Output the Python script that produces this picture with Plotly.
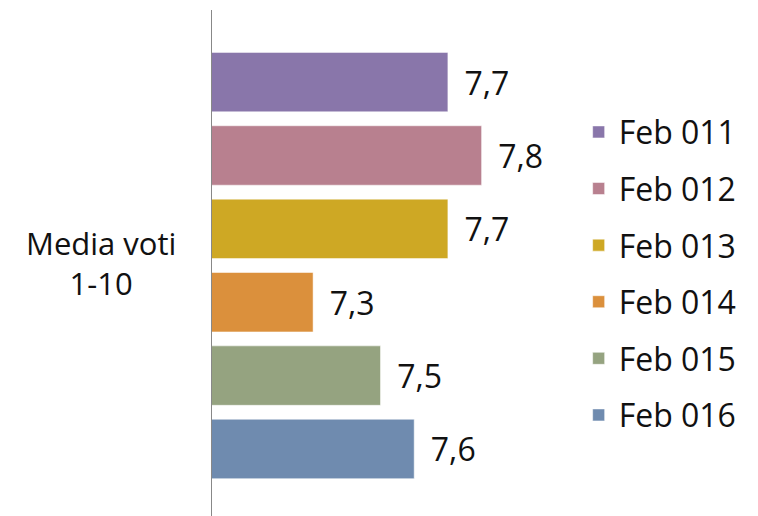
import plotly.graph_objects as go

category = ["Media voti 1-10"]
category_label = "Media voti<br>1-10"
series_names = ["Feb 011", "Feb 012", "Feb 013", "Feb 014", "Feb 015", "Feb 016"]
series_values = [7.7, 7.8, 7.7, 7.3, 7.5, 7.6]
colors = ["#8976AA", "#B8808F", "#CEA824", "#DB903C", "#95A380", "#6F8BAF"]

FONT = "Open Sans"

fig = go.Figure()
for name, val, col in zip(series_names, series_values, colors):
    fig.add_trace(go.Bar(
        y=category, x=[val], name=name, orientation="h",
        marker=dict(color=col, line=dict(color="rgba(255,255,255,0.5)", width=1)),
        texttemplate="\u00a0\u2009%{x:.1f}", textposition="outside",
        textfont=dict(family=FONT, size=32, color="#111"),
        cliponaxis=False, legendgroup=name,
    ))

fig.add_annotation(
    text=category_label, xref="paper", yref="y", x=-0.33, y=category[0],
    xanchor="center", yanchor="middle", align="center", showarrow=False,
    yshift=3, font=dict(family=FONT, size=31, color="#111"),
)

# page body has an 8px margin; margins are shifted to compensate
fig.update_layout(
    width=758, height=516,
    margin=dict(l=204, r=217, t=2, b=8, autoexpand=False),
    paper_bgcolor="white", plot_bgcolor="white",
    barmode="group", bargap=0.13, bargroupgap=0.19,
    separators=",.",
    showlegend=True,
    legend=dict(x=1.088, y=0.479, yanchor="middle", xanchor="left",
                font=dict(family=FONT, size=32, color="#111"),
                tracegroupgap=12, traceorder="grouped"),
    font=dict(family=FONT, color="#111"),
)
fig.update_xaxes(range=[7, 8], visible=False)
fig.update_yaxes(range=[0.495, -0.505], showline=True, linecolor="#888", linewidth=1,
                 ticks="", showticklabels=False, showgrid=False, automargin=False)

fig.write_html("out.html")
